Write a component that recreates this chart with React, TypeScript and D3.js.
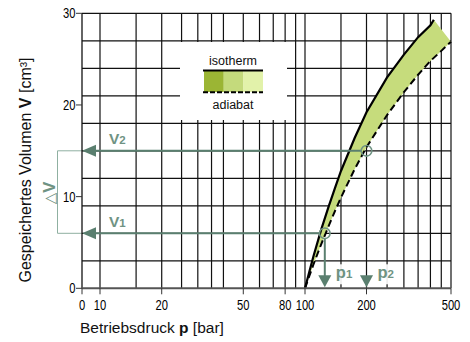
import React, { useRef, useEffect } from "react";
import * as d3 from "d3";

// pressure [bar] / volume [cm³]
const isoP = [100, 105, 110, 120, 130, 140, 150, 175, 200, 250, 300, 350, 400, 415];
const isoV = [0, 1.8, 3.5, 6.4, 8.8, 10.9, 12.8, 16.4, 19.2, 23.0, 25.5, 27.4, 28.7, 29.3];
const adiP = [100, 105, 110, 120, 130, 140, 150, 175, 200, 250, 300, 350, 400, 450, 500];
const adiV = [0, 1.35, 2.6, 4.8, 6.7, 8.4, 9.9, 13.0, 15.4, 18.9, 21.4, 23.3, 24.8, 25.9, 26.9];

const pGrid = [10, 15, 20, 25, 30, 35, 40, 50, 60, 70, 80, 90, 100, 150, 200, 250, 300, 350, 400, 450, 500];
const vGrid = [3, 6, 9, 12, 15, 18, 21, 24, 27, 30];
const pTicks = [0, 10, 20, 50, 80, 100, 200, 500];
const vTicks = [0, 10, 20, 30];

const points = [
  { name: "1", p: 125, v: 6 },
  { name: "2", p: 200, v: 15 },
];

const legendLabels = ["isotherm", "adiabat"];
const legendColors = ["#9bb534", "#c4da7c", "#e2f2aa"];

const App = () => {
  const svgRef = useRef<SVGSVGElement>(null);

  useEffect(() => {
    const svg = d3.select(svgRef.current);
    svg.selectAll("*").remove();

    const font = "'Liberation Sans', Arial, sans-serif";
    const labelGreen = "#6f9383";
    const arrowGreen = "#5a7f6f";

    // log axis, slightly uneven in the original print
    const x = d3.scaleLog().domain([10, 100, 200, 500]).range([100, 305, 366.5, 451]);
    const x0 = 82; // p = 0 (axis break)
    const px = (p: number) => (p === 0 ? x0 : x(p));
    const y = d3.scaleLinear().domain([0, 30]).range([288.3, 13.3]);
    const left = x0;
    const right = x(500);

    const grid = svg.append("g").attr("stroke", "#111").attr("stroke-width", 1.2);
    pGrid.forEach((p) => {
      grid.append("line").attr("x1", x(p)).attr("x2", x(p)).attr("y1", y(30)).attr("y2", y(0));
    });
    vGrid.forEach((v) => {
      grid.append("line").attr("x1", left).attr("x2", right).attr("y1", y(v)).attr("y2", y(v));
    });

    // legend box covers the grid
    svg.append("rect").attr("x", 180).attr("y", y(27) + 1.2).attr("width", 107).attr("height", 78)
      .attr("fill", "#fff");

    const lg = svg.append("g").attr("font-family", font).attr("font-size", 12.5).attr("fill", "#111");
    lg.append("text").attr("x", 233).attr("y", 65).attr("text-anchor", "middle").text(legendLabels[0]);
    lg.append("text").attr("x", 233).attr("y", 109).attr("text-anchor", "middle").text(legendLabels[1]);
    legendColors.forEach((c, i) => {
      lg.append("rect").attr("x", 204 + i * 19.6).attr("y", 70.5).attr("width", 19.8).attr("height", 21.5)
        .attr("fill", c);
    });
    lg.append("line").attr("x1", 203).attr("x2", 263).attr("y1", 70.5).attr("y2", 70.5)
      .attr("stroke", "#000").attr("stroke-width", 2);
    lg.append("line").attr("x1", 203).attr("x2", 263).attr("y1", 92.3).attr("y2", 92.3)
      .attr("stroke", "#000").attr("stroke-width", 2).attr("stroke-dasharray", "5,2");

    const iso = isoP.map((p, i) => [p, isoV[i]] as [number, number]);
    const adi = adiP.map((p, i) => [p, adiV[i]] as [number, number]);
    const line = d3.line<[number, number]>().x((d) => px(d[0])).y((d) => y(d[1]));

    svg.append("path").attr("d", line([...iso, ...adi.slice().reverse()]) + "Z").attr("fill", "#c6dc7c");
    svg.append("path").attr("d", line(adi)).attr("fill", "none").attr("stroke", "#000")
      .attr("stroke-width", 2).attr("stroke-dasharray", "7,4");
    svg.append("path").attr("d", line(iso)).attr("fill", "none").attr("stroke", "#000")
      .attr("stroke-width", 2.2);

    // ΔV bracket
    svg.append("path")
      .attr("d", `M${left},${y(15)}H57.5V${y(6)}H${left}`)
      .attr("fill", "none").attr("stroke", "#8fb0a1").attr("stroke-width", 1);

    points.forEach((d) => {
      const cx = px(d.p);
      const cy = y(d.v);
      // horizontal arrow to the V axis
      svg.append("line").attr("x1", left + 10).attr("x2", cx - 5).attr("y1", cy).attr("y2", cy)
        .attr("stroke", arrowGreen).attr("stroke-width", 2);
      svg.append("path").attr("d", `M${left},${cy}L${left + 14},${cy - 6}V${cy + 6}Z`).attr("fill", arrowGreen);
      // arrow down to the p axis
      if (d.name === "1") {
        svg.append("line").attr("x1", cx).attr("x2", cx).attr("y1", cy + 5).attr("y2", y(0) - 10)
          .attr("stroke", arrowGreen).attr("stroke-width", 2);
      }
      svg.append("path").attr("d", `M${cx},${y(0) - 1}L${cx - 6.5},${y(0) - 13}H${cx + 6.5}Z`)
        .attr("fill", arrowGreen);
      svg.append("circle").attr("cx", cx).attr("cy", cy).attr("r", 5.3).attr("fill", "none")
        .attr("stroke", labelGreen).attr("stroke-width", 1.6);

      // p label
      svg.append("rect").attr("x", cx + 9).attr("y", y(0) - 24).attr("width", 21).attr("height", 20)
        .attr("fill", "#fff").attr("opacity", 0.9);
      const pt = svg.append("text").attr("x", cx + 11).attr("y", y(0) - 10).attr("font-family", font)
        .attr("font-weight", "bold").attr("fill", labelGreen);
      pt.append("tspan").attr("font-size", 16.5).text("p");
      pt.append("tspan").attr("font-size", 11.5).text(d.name);

      // V label
      const vt = svg.append("text").attr("x", 109).attr("y", cy - 6.5).attr("font-family", font)
        .attr("font-weight", "bold").attr("fill", labelGreen);
      vt.append("tspan").attr("font-size", 15.5).text("V");
      vt.append("tspan").attr("font-size", 11.5).text(d.name);
    });

    const dv = svg.append("text").attr("transform", `translate(55,${(y(15) + y(6)) / 2 + 1}) rotate(-90)`)
      .attr("text-anchor", "middle").attr("font-family", font).attr("font-weight", "bold")
      .attr("fill", labelGreen).attr("font-size", 16.5);
    dv.append("tspan").attr("font-family", "'DejaVu Sans', sans-serif").attr("font-weight", "normal")
      .attr("font-size", 15).text("△");
    dv.append("tspan").text("V");

    // axes
    svg.append("line").attr("x1", left).attr("x2", left).attr("y1", y(30)).attr("y2", y(0))
      .attr("stroke", "#111").attr("stroke-width", 1.3);
    svg.append("line").attr("x1", left).attr("x2", right).attr("y1", y(0)).attr("y2", y(0))
      .attr("stroke", "#555").attr("stroke-width", 2);

    const ax = svg.append("g").attr("font-family", font).attr("font-size", 14).attr("fill", "#000");
    vTicks.forEach((v) => {
      ax.append("line").attr("x1", left - 6).attr("x2", left).attr("y1", y(v)).attr("y2", y(v))
        .attr("stroke", "#333").attr("stroke-width", 1);
      ax.append("text").attr("transform", `translate(75.5,${y(v) + 5}) scale(0.8,1)`)
        .attr("text-anchor", "end").text(v);
    });
    pTicks.forEach((p) => {
      ax.append("line").attr("x1", px(p)).attr("x2", px(p)).attr("y1", y(0)).attr("y2", y(0) + 6)
        .attr("stroke", "#333").attr("stroke-width", 1);
      ax.append("text").attr("transform", `translate(${px(p)},309.5) scale(0.8,1)`)
        .attr("text-anchor", "middle").text(p);
    });

    const xt = svg.append("text").attr("x", 80).attr("y", 333).attr("font-family", font)
      .attr("font-size", 15.5).attr("fill", "#111");
    xt.append("tspan").text("Betriebsdruck ");
    xt.append("tspan").attr("font-weight", "bold").text("p");
    xt.append("tspan").text(" [bar]");

    const yt = svg.append("text").attr("transform", "translate(31,170) rotate(-90)")
      .attr("text-anchor", "middle").attr("font-family", font).attr("font-size", 16).attr("fill", "#111");
    yt.append("tspan").text("Gespeichertes Volumen ");
    yt.append("tspan").attr("font-weight", "bold").text("V");
    yt.append("tspan").text(" [cm³]");
  }, []);

  return (
    <svg ref={svgRef} width={470} height={342}
      style={{ position: "absolute", left: 0, top: 0, background: "#fff" }}></svg>
  );
};

export default App;
